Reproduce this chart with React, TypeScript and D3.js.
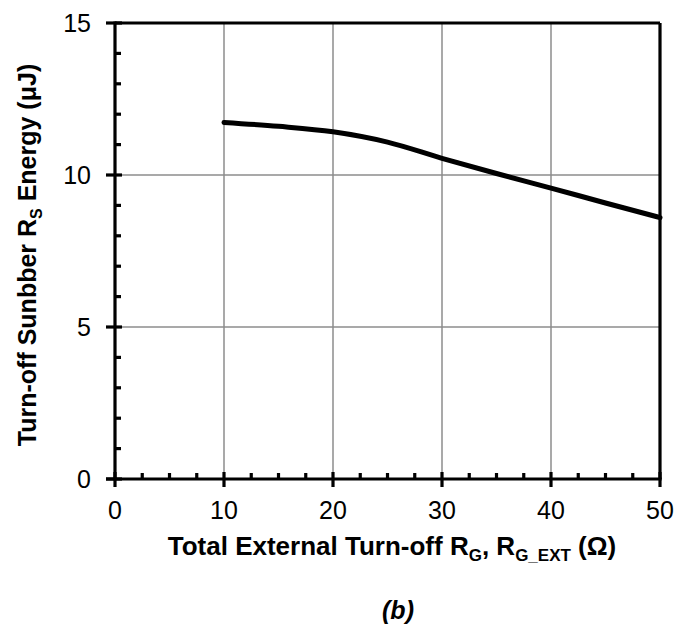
import React from "react";
import * as d3 from "d3";

const xValues = [10, 15, 20, 25, 30, 35, 40, 45, 50];
const yValues = [11.73, 11.6, 11.42, 11.08, 10.55, 10.05, 9.57, 9.08, 8.6];
const xTicks = [0, 10, 20, 30, 40, 50];
const yTicks = [0, 5, 10, 15];

export default function App() {
  const W = 689, H = 628;
  const left = 115, right = 660, top = 23, bottom = 479;
  const x = d3.scaleLinear().domain([0, 50]).range([left, right]);
  const y = d3.scaleLinear().domain([0, 15]).range([bottom, top]);
  const line = d3.line<number>().x((_, i) => x(xValues[i])).y((d) => y(d)).curve(d3.curveMonotoneX);
  const xMinor = d3.range(0, 50.01, 2.5).filter((v) => v % 10 !== 0);
  const yMinor = d3.range(0, 15.01, 1).filter((v) => v % 5 !== 0);
  const font = "Arial, 'Liberation Sans', sans-serif";
  return (
    <svg width={W} height={H} style={{ position: "absolute", left: 0, top: 0 }} fontFamily={font}>
      <rect width={W} height={H} fill="#fff" />
      {xTicks.filter((v) => v > 0 && v < 50).map((v) => (
        <line key={"gx" + v} x1={x(v)} x2={x(v)} y1={top} y2={bottom} stroke="#8c8c8c" strokeWidth={1.5} />
      ))}
      {yTicks.filter((v) => v > 0 && v < 15).map((v) => (
        <line key={"gy" + v} x1={left} x2={right} y1={y(v)} y2={y(v)} stroke="#8c8c8c" strokeWidth={1.5} />
      ))}
      <path d={line(yValues) || ""} fill="none" stroke="#000" strokeWidth={5} strokeLinecap="round" />
      <line x1={left} x2={right} y1={top} y2={top} stroke="#000" strokeWidth={3.2} />
      <line x1={right} x2={right} y1={top} y2={bottom} stroke="#000" strokeWidth={3.2} />
      <line x1={left - 9} x2={right + 1.6} y1={bottom} y2={bottom} stroke="#000" strokeWidth={3.2} />
      <line x1={left} x2={left} y1={top - 1.6} y2={bottom} stroke="#000" strokeWidth={3.2} />
      {xTicks.map((v) => (
        <line key={"xt" + v} x1={x(v)} x2={x(v)} y1={bottom - 7} y2={bottom + 8} stroke="#000" strokeWidth={3.2} />
      ))}
      {xMinor.map((v) => (
        <line key={"xm" + v} x1={x(v)} x2={x(v)} y1={bottom - 6} y2={bottom} stroke="#000" strokeWidth={3.2} />
      ))}
      {yTicks.map((v) => (
        <line key={"yt" + v} x1={left - 9} x2={left + 7} y1={y(v)} y2={y(v)} stroke="#000" strokeWidth={3.2} />
      ))}
      {yMinor.map((v) => (
        <line key={"ym" + v} x1={left} x2={left + 6} y1={y(v)} y2={y(v)} stroke="#000" strokeWidth={3.2} />
      ))}
      {xTicks.map((v) => (
        <text key={"xl" + v} x={x(v)} y={bottom + 40} textAnchor="middle" fontSize={25}>{v}</text>
      ))}
      {yTicks.map((v) => (
        <text key={"yl" + v} x={left - 24} y={y(v) + 9} textAnchor="end" fontSize={25}>{v}</text>
      ))}
      <text x={392} y={555} textAnchor="middle" fontSize={26} fontWeight="bold">
        Total External Turn-off R<tspan fontSize={17} dy={6}>G</tspan>
        <tspan dy={-6}>, R</tspan><tspan fontSize={17} dy={6}>G_EXT</tspan>
        <tspan dy={-6}> (Ω)</tspan>
      </text>
      <text transform={`translate(36, ${(top + bottom) / 2 + 4}) rotate(-90)`} textAnchor="middle" fontSize={25} fontWeight="bold">
        Turn-off Sunbber R<tspan fontSize={16} dy={6}>S</tspan>
        <tspan dy={-6}> Energy (μJ)</tspan>
      </text>
      <text x={398} y={619} textAnchor="middle" fontSize={25} fontWeight="bold" fontStyle="italic">(b)</text>
    </svg>
  );
}
